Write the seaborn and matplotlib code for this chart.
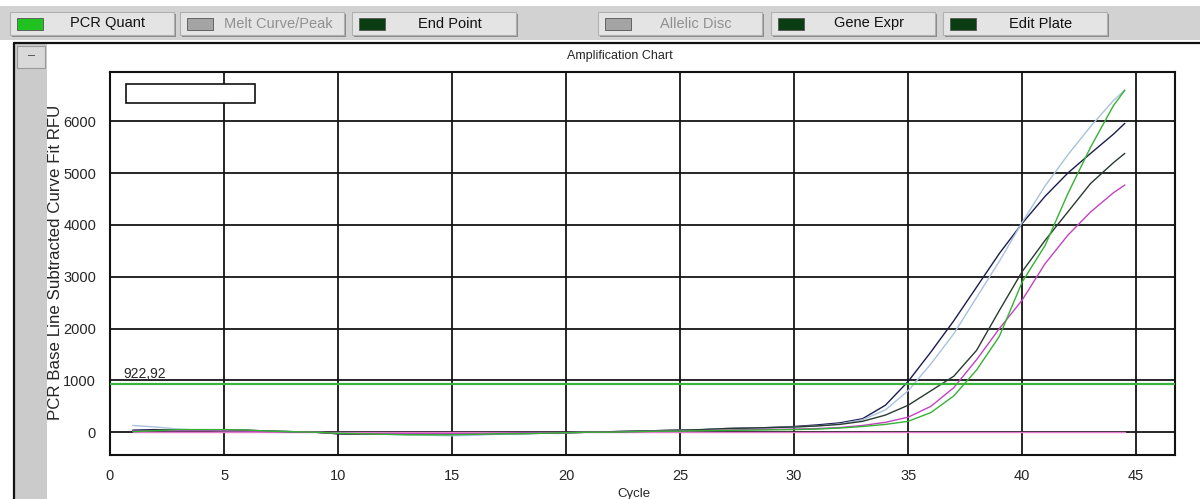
import pandas as pd
import seaborn as sns
import matplotlib.pyplot as plt
from matplotlib.patches import Rectangle
from matplotlib.ticker import MultipleLocator

# Amplification chart (PCR Quant screen)

W, H = 1200, 499

cycles = list(range(1, 45)) + [44.5]

navy = [40, 50, 40, 40, 40, 40, 20, 10, 0, -30, -40, -40, -40, -40, -40,
        -30, -30, -30, -20, -10, 0, 10, 20, 30, 40, 50, 70, 80, 90,
        110, 140, 180, 260, 520, 980, 1550, 2150, 2800, 3450, 4030, 4550,
        5000, 5380, 5750, 5960]
lightblue = [130, 100, 60, 40, 30, 30, 20, 10, 0, -20, -30, -40, -50, -60, -70,
             -60, -40, -30, -20, -10, 0, 10, 20, 30, 40, 50, 70, 80, 90,
             100, 120, 160, 240, 430, 800, 1320, 1900, 2600, 3300, 4050, 4750,
             5350, 5900, 6400, 6600]
dark = [20, 40, 40, 40, 40, 30, 20, 10, 0, -30, -40, -40, -40, -40, -40,
        -30, -30, -20, -20, -10, 0, 10, 20, 30, 40, 50, 70, 80, 90,
        100, 120, 150, 210, 330, 520, 800, 1080, 1580, 2350, 3100, 3700,
        4250, 4800, 5200, 5380]
magenta = [20, 30, 30, 30, 30, 20, 10, 10, 0, -20, -30, -30, -30, -30, -30,
           -30, -20, -20, -10, -10, 0, 0, 10, 20, 20, 30, 40, 50, 55,
           60, 70, 90, 130, 190, 290, 500, 860, 1400, 2000, 2550, 3250,
           3800, 4250, 4620, 4770]
green = [10, 30, 50, 50, 50, 40, 20, 10, 0, -20, -30, -40, -50, -50, -50,
         -40, -30, -30, -20, -10, 0, 0, 10, 20, 20, 30, 35, 40, 45,
         50, 60, 80, 110, 150, 210, 380, 700, 1200, 1850, 2900, 3600,
         4600, 5500, 6300, 6600]
negative = [0, 0, 0, 0, 0, 0, 0, 0, 0, 0, 0, 0, 0, 0, 0,
            0, 0, 0, 0, 0, 0, 0, 0, 0, 0, 0, 0, 0, 0,
            0, 0, 0, 0, 0, 0, 0, 0, 0, 0, 0, 0,
            0, 0, 0, 0]

threshold = 922.92
threshold_label = "922,92"

buttons = ["PCR Quant", "Melt Curve/Peak", "End Point", "Allelic Disc", "Gene Expr", "Edit Plate"]
button_state = ["on", "off", "dark", "off", "dark", "dark"]

wells = {"neg": negative, "navy": navy, "lightblue": lightblue,
         "dark": dark, "magenta": magenta, "green": green}
palette = {"neg": "#e27ac8", "navy": "#1c1c50", "lightblue": "#a9c1dd",
           "dark": "#2a3a30", "magenta": "#c044c0", "green": "#34b234"}

rows = []
for name, vals in wells.items():
    for c, v in zip(cycles, vals):
        rows.append({"cycle": c, "rfu": v, "well": name})
df = pd.DataFrame(rows)

sns.set_style("white")
plt.rcParams["font.family"] = ["Liberation Sans", "DejaVu Sans"]

fig = plt.figure(figsize=(W / 100, H / 100), dpi=100)
fig.patch.set_facecolor("white")


def px_rect(x0, y0, x1, y1, z=-5, **kw):
    r = Rectangle((x0 / W, 1 - y1 / H), (x1 - x0) / W, (y1 - y0) / H,
                  transform=fig.transFigure, zorder=z, **kw)
    fig.add_artist(r)
    return r


# toolbar
px_rect(0, 6, 1200, 40, facecolor="#d2d2d2", edgecolor="none", z=-10)
bx = [10, 180, 352, 598, 771, 943]
bw = 164
for x0, label, state in zip(bx, buttons, button_state):
    px_rect(x0 + 2, 14, x0 + bw + 2, 37, facecolor="#8a8a8a", edgecolor="none", z=-9)
    px_rect(x0, 12, x0 + bw, 35, facecolor="#e4e4e4", edgecolor="#b0b0b0", linewidth=0.8, z=-8)
    led = {"on": "#1fc21f", "dark": "#0b3d12", "off": "#a4a4a4"}[state]
    px_rect(x0 + 7, 18, x0 + 33, 30, facecolor=led, edgecolor="#555555", linewidth=0.6, z=-7)
    fig.text((x0 + 98) / W, 1 - 23.5 / H, label, ha="center", va="center", fontsize=10.5,
             color="#909090" if state == "off" else "#111111")

# chart panel frame
px_rect(14, 43, 1200, 499, facecolor="white", edgecolor="none", z=-10)
px_rect(15, 44, 47, 499, facecolor="#cbcbcb", edgecolor="none", z=-9)
px_rect(17, 46, 45, 68, facecolor="#d9d9d9", edgecolor="#9a9a9a", linewidth=0.8, z=-8)
fig.text(31 / W, 1 - 56 / H, "–", ha="center", va="center", fontsize=9, color="#444444")
fig.add_artist(plt.Line2D([14 / W, 1], [1 - 43 / H, 1 - 43 / H], transform=fig.transFigure,
                          color="#111111", linewidth=1.6, zorder=-6))
fig.add_artist(plt.Line2D([14 / W, 14 / W], [0, 1 - 43 / H], transform=fig.transFigure,
                          color="#111111", linewidth=1.6, zorder=-6))
fig.text(620 / W, 1 - 56 / H, "Amplification Chart", ha="center", va="center", fontsize=9)

ax_l, ax_r, ax_t, ax_b = 110, 1175, 72, 455
ax = fig.add_axes([ax_l / W, 1 - ax_b / H, (ax_r - ax_l) / W, (ax_b - ax_t) / H])

sns.lineplot(data=df, x="cycle", y="rfu", hue="well", palette=palette,
             legend=False, linewidth=1.0, ax=ax)

ax.axhline(threshold, color="#3cb43c", linewidth=1.6, zorder=3)
ax.text(0.6, threshold + 70, threshold_label, fontsize=10, ha="left", va="bottom")

ax.set_xlim(0, 46.7)
ax.set_ylim(-440, 6950)
ax.xaxis.set_major_locator(MultipleLocator(5))
ax.xaxis.set_minor_locator(MultipleLocator(1))
ax.yaxis.set_major_locator(MultipleLocator(1000))
ax.yaxis.set_minor_locator(MultipleLocator(500))
ax.grid(True, which="major", color="#151515", linewidth=1.3)
ax.set_axisbelow(True)
ax.tick_params(which="major", direction="out", length=8, width=1.2, labelsize=10.5, pad=2, color="#222222")
ax.tick_params(which="minor", direction="in", length=5, width=0.8, color="#a8a8a8")
for s in ax.spines.values():
    s.set_color("#111111")
    s.set_linewidth(1.5)

ax.set_xlabel("Cycle", fontsize=9.5)
ax.xaxis.set_label_coords(0.492, -0.085)
ax.set_ylabel("PCR Base Line Subtracted Curve Fit RFU", fontsize=12.2)
ax.yaxis.set_label_coords(-0.044, 0.504)

# empty legend box
ax.add_patch(Rectangle((0.015, 0.919), 0.121, 0.05, transform=ax.transAxes,
                       facecolor="white", edgecolor="#111111", linewidth=1.2, zorder=5))

fig.savefig("out.png", dpi=100)
